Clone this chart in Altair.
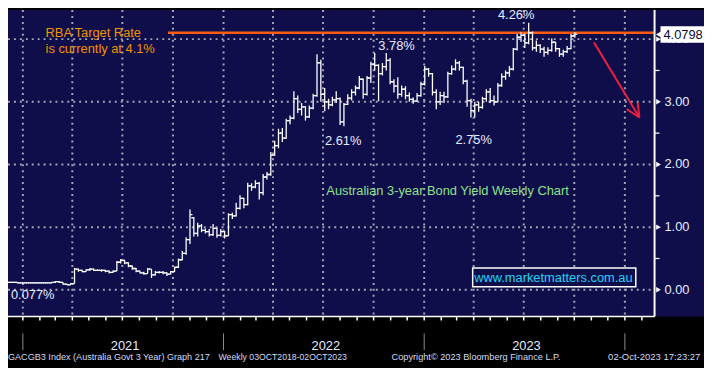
import altair as alt
import pandas as pd

# ---------------- data (weekly OHLC, Australian 3-year bond yield) ----------------
start_week = "2020-11-23"
opens = [0.12,0.12,
         0.12,0.12,0.12,0.11,0.11,0.11,0.11,0.11,0.11,0.11,0.11,0.11,
         0.12,0.13,0.12,0.09,0.08,0.10,
         0.33,0.31,0.29,0.32,0.33,0.31,0.31,0.31,0.30,0.28,
         0.30,0.44,0.47,0.43,0.38,0.34,0.30,0.27,0.26,0.33,
         0.24,0.28,0.28,0.27,0.25,0.29,0.36,0.48,0.58,0.80,
         1.15,0.90,1.02,0.95,0.93,0.88,0.98,0.87,0.93,0.86,
         1.20,1.18,1.30,1.46,1.36,1.66,1.64,1.70,1.55,1.80,
         1.84,2.15,2.30,2.50,2.42,2.70,2.74,3.05,2.88,2.92,
         2.76,2.90,3.10,3.62,3.12,3.00,2.95,3.03,3.05,2.68,
         2.96,3.06,3.15,3.22,3.36,3.12,3.38,3.60,3.58,3.45,
         3.56,3.66,3.32,3.25,3.12,3.20,3.10,3.04,3.01,3.10,
         3.28,3.52,3.45,3.15,3.00,3.10,3.08,3.45,3.52,3.62,
         3.55,3.33,3.02,2.86,2.95,2.91,3.05,3.16,3.02,3.00,
         3.26,3.40,3.46,3.52,3.84,4.03,4.06,3.94,4.10,3.86,
         3.90,3.84,3.79,3.82,3.95,3.85,3.76,3.80,3.85,4.05]
highs = [0.13,0.13,
         0.13,0.13,0.13,0.12,0.12,0.12,0.12,0.12,0.12,0.12,0.12,0.12,
         0.14,0.14,0.12,0.10,0.11,0.35,
         0.34,0.32,0.33,0.35,0.34,0.33,0.33,0.32,0.31,0.31,
         0.46,0.49,0.48,0.44,0.39,0.35,0.31,0.29,0.35,0.33,
         0.30,0.30,0.30,0.28,0.30,0.37,0.50,0.62,0.84,1.28,
         1.16,1.07,1.05,0.98,0.97,1.05,0.99,0.97,0.94,1.22,
         1.23,1.39,1.51,1.47,1.71,1.70,1.75,1.72,1.85,1.88,
         2.20,2.38,2.57,2.58,2.73,2.78,3.17,3.10,2.98,2.93,
         2.94,3.13,3.76,3.67,3.22,3.05,3.08,3.17,3.07,2.98,
         3.12,3.20,3.26,3.41,3.37,3.41,3.64,3.78,3.60,3.62,
         3.78,3.70,3.36,3.39,3.26,3.25,3.15,3.07,3.14,3.32,
         3.57,3.54,3.46,3.20,3.16,3.16,3.48,3.58,3.68,3.65,
         3.56,3.35,3.05,3.00,3.00,3.08,3.20,3.22,3.10,3.30,
         3.45,3.50,3.57,3.86,4.08,4.11,4.09,4.26,4.12,3.98,
         3.92,3.88,3.87,4.01,3.96,3.86,3.83,3.89,4.08,4.11]
lows = [0.11,0.11,
        0.11,0.11,0.11,0.10,0.10,0.10,0.10,0.10,0.10,0.10,0.10,0.10,
        0.11,0.11,0.08,0.077,0.08,0.10,
        0.29,0.28,0.29,0.30,0.30,0.30,0.29,0.28,0.26,0.27,
        0.30,0.42,0.41,0.36,0.32,0.28,0.26,0.24,0.26,0.19,
        0.23,0.26,0.25,0.22,0.25,0.29,0.35,0.47,0.56,0.73,
        0.85,0.85,0.92,0.90,0.85,0.86,0.83,0.85,0.82,0.86,
        1.13,1.17,1.28,1.30,1.35,1.58,1.62,1.44,1.51,1.76,
        1.82,2.14,2.26,2.36,2.41,2.64,2.72,2.82,2.78,2.70,
        2.74,2.88,3.08,3.00,2.85,2.88,2.93,2.98,2.63,2.61,
        2.95,3.02,3.10,3.20,3.05,3.10,3.30,3.50,3.01,3.42,
        3.50,3.28,3.15,3.05,3.08,3.04,3.00,2.97,3.00,3.08,
        3.26,3.40,3.10,2.88,2.95,2.98,3.06,3.43,3.50,3.50,
        3.28,2.92,2.75,2.75,2.84,2.89,3.00,2.98,2.94,2.99,
        3.24,3.35,3.40,3.50,3.82,3.96,3.86,3.92,3.82,3.80,
        3.78,3.72,3.75,3.80,3.80,3.72,3.72,3.78,3.84,4.02]
closes = [0.12,0.12,
          0.12,0.12,0.11,0.11,0.11,0.11,0.11,0.11,0.11,0.11,0.11,0.12,
          0.13,0.12,0.09,0.08,0.10,0.33,
          0.31,0.29,0.32,0.33,0.31,0.31,0.31,0.30,0.28,0.30,
          0.44,0.47,0.43,0.38,0.34,0.30,0.27,0.26,0.33,0.24,
          0.28,0.28,0.27,0.25,0.29,0.36,0.48,0.58,0.80,1.20,
          0.90,1.02,0.95,0.93,0.88,0.98,0.87,0.93,0.86,1.20,
          1.18,1.30,1.46,1.36,1.66,1.64,1.70,1.55,1.80,1.84,
          2.15,2.30,2.50,2.42,2.70,2.74,3.05,2.88,2.92,2.76,
          2.90,3.10,3.62,3.12,3.00,2.95,3.03,3.05,2.68,2.96,
          3.06,3.15,3.22,3.36,3.12,3.38,3.60,3.58,3.45,3.56,
          3.66,3.32,3.25,3.12,3.20,3.10,3.04,3.01,3.10,3.28,
          3.52,3.45,3.15,3.00,3.10,3.08,3.45,3.52,3.62,3.55,
          3.33,3.02,2.86,2.95,2.91,3.05,3.16,3.02,3.00,3.26,
          3.40,3.46,3.52,3.84,4.03,4.06,3.94,4.10,3.86,3.90,
          3.84,3.79,3.82,3.95,3.85,3.76,3.80,3.85,4.05,4.0798]

y_levels = [0, 1, 2, 3, 4]
y_labels = ["0.00", "1.00", "2.00", "3.00", "4.00"]
y_minor = [0.5, 1.5, 2.5, 3.5]
years = ["2021", "2022", "2023"]
rba_rate = 4.1
last_value = "4.0798"

# ---------------- styling ----------------
NAVY = "#0f0e4a"
GRID = "#a3a3b3"
LIGHT = "#e6ecff"
FONT = "Liberation Sans"
W, H = 654, 310          # plot area (page offset 8px, so it ends at x=662, y=318)
TOTAL_W, TOTAL_H = 704, 360

xs = alt.Scale(domain=[alt.DateTime(year=2020, month=12, date=5),
                       alt.DateTime(year=2024, month=2, date=24)], nice=False)
ys = alt.Scale(domain=[-0.426, 4.464], nice=False, zero=False)

df = pd.DataFrame({"date": pd.date_range(start_week, periods=len(closes), freq="7D"),
                   "open": opens, "high": highs, "low": lows, "close": closes})
quarters = pd.DataFrame({"d": pd.date_range("2021-01-01", "2024-01-01", freq="QS")})
months = pd.DataFrame({"d": pd.date_range("2021-01-01", "2024-02-01", freq="MS")})
year_starts = pd.DataFrame({"d": pd.to_datetime(["2021-01-01", "2022-01-01", "2023-01-01", "2024-01-01"])})
year_mid = pd.DataFrame({"d": pd.to_datetime([f"{y}-07-06" for y in years]), "t": years})
levels = pd.DataFrame({"v": y_levels, "lab": y_labels})
minor = pd.DataFrame({"v": y_minor})
rba = pd.DataFrame({"d1": pd.to_datetime(["2021-09-22"]), "d2": pd.to_datetime(["2024-02-24"]), "v": [rba_rate]})
arrow = pd.DataFrame({
    "d1": pd.to_datetime(["2023-11-05 17:00", "2024-01-04 12:00", "2024-01-24 08:00"]),
    "v1": [3.948, 2.882, 2.986],
    "d2": pd.to_datetime(["2024-01-27 10:00"] * 3),
    "v2": [2.749, 2.749, 2.749],
})
one = pd.DataFrame({"k": [0]})

X = lambda f: alt.X(f, scale=xs, axis=None)
Y = lambda f: alt.Y(f, scale=ys, axis=None)

bg = alt.Chart(one).mark_rect(color=NAVY).encode(
    x=alt.value(0), x2=alt.value(TOTAL_W), y=alt.value(0), y2=alt.value(H))

vgrid = alt.Chart(quarters).mark_rule(color=GRID, strokeWidth=2, strokeDash=[2, 4]).encode(
    x=X("d:T"), y=alt.value(0), y2=alt.value(H))
hgrid = alt.Chart(levels).mark_rule(color=GRID, strokeWidth=2, strokeDash=[2, 4]).encode(
    y=Y("v:Q"), x=alt.value(0), x2=alt.value(W))

rba_line = alt.Chart(rba).mark_rule(color="#ff5a14", strokeWidth=2.5).encode(
    x=X("d1:T"), x2="d2:T", y=Y("v:Q"))

hl = alt.Chart(df).mark_rule(color="white", strokeWidth=1.3, clip=True).encode(
    x=X("date:T"), y=Y("low:Q"), y2="high:Q")
op = alt.Chart(df).mark_rule(color="white", strokeWidth=1.3, xOffset=-2.5, x2Offset=0, clip=True).encode(
    x=X("date:T"), x2="date:T", y=Y("open:Q"))
cl = alt.Chart(df).mark_rule(color="white", strokeWidth=1.3, xOffset=0, x2Offset=2.5, clip=True).encode(
    x=X("date:T"), x2="date:T", y=Y("close:Q"))

arr = alt.Chart(arrow).mark_rule(color="#e8203f", strokeWidth=2).encode(
    x=X("d1:T"), x2="d2:T", y=Y("v1:Q"), y2="v2:Q")

# axes drawn by hand
raxis = alt.Chart(one).mark_rule(color="white", strokeWidth=2).encode(
    x=alt.value(W), y=alt.value(0), y2=alt.value(H))
baxis = alt.Chart(one).mark_rule(color="white", strokeWidth=1.5).encode(
    x=alt.value(0), x2=alt.value(W), y=alt.value(H))
mticks = alt.Chart(months).mark_rule(color="white", strokeWidth=1.5).encode(
    x=X("d:T"), y=alt.value(H), y2=alt.value(H + 4))
ydiv = alt.Chart(year_starts).mark_rule(color="#8c8c8c", strokeWidth=1).encode(
    x=X("d:T"), y=alt.value(327), y2=alt.value(344))
ylab = alt.Chart(year_mid).mark_text(color=LIGHT, fontSize=13, font=FONT, align="center").encode(
    x=X("d:T"), y=alt.value(340), text="t:N")
tri = alt.Chart(levels).mark_point(shape="triangle-right", filled=True, color="white", size=30, opacity=1).encode(
    x=alt.value(W + 4), y=Y("v:Q"))
mtk = alt.Chart(minor).mark_rule(color="white", strokeWidth=1.2).encode(
    x=alt.value(W), x2=alt.value(W + 5), y=Y("v:Q"))
rlab = alt.Chart(levels).mark_text(color=LIGHT, fontSize=13, font=FONT, align="left", baseline="middle").encode(
    x=alt.value(W + 10), y=Y("v:Q"), text="lab:N")


def txt(s, x, y, color, size=13, align="left", font=FONT, baseline="alphabetic"):
    return alt.Chart(one).mark_text(text=s, align=align, baseline=baseline, color=color,
                                    fontSize=size, font=font).encode(x=alt.value(x), y=alt.value(y))


# last value flag
flag_box = alt.Chart(one).mark_rect(color="white").encode(
    x=alt.value(660), x2=alt.value(TOTAL_W), y=alt.value(16.5), y2=alt.value(33))
flag_notch = alt.Chart(one).mark_point(shape="triangle-left", filled=True, color="white", size=70, opacity=1).encode(
    x=alt.value(659), y=alt.value(24.7))
flag_txt = txt(last_value, 663, 25, "#0a0a30", size=13, baseline="middle")

site_box = alt.Chart(one).mark_rect(fill=NAVY, stroke="white", strokeWidth=1.5).encode(
    x=alt.value(470), x2=alt.value(635), y=alt.value(261), y2=alt.value(280))

texts = [
    txt("RBA Target Rate", 38, 27, "#f39200"),
    txt("is currently at 4.1%", 38, 43.7, "#f39200"),
    txt("4.26%", 514, 9.5, LIGHT, align="center"),
    txt("3.78%", 393, 40.5, LIGHT, align="center"),
    txt("2.61%", 339, 136.5, LIGHT, align="center"),
    txt("2.75%", 471, 135.5, LIGHT, align="center"),
    txt("0.077%", 25, 292.7, LIGHT, align="center"),
    txt("Australian 3-year Bond Yield Weekly Chart", 322, 187, "#8fe08a"),
    txt("www.marketmatters.com.au", 471.5, 275.3, "#22d3f5"),
]
FOOT = "#d3dcf5"
footer = [
    txt("GACGB3 Index (Australia Govt 3 Year) Graph 217", 0, 354, FOOT, size=9.2),
    txt("Weekly 03OCT2018-02OCT2023", 213, 354, FOOT, size=8.8),
    txt("Copyright\u00a9 2023 Bloomberg Finance L.P.", 388, 354, FOOT, size=9.3),
    txt("02-Oct-2023 17:23:27", 607, 354, FOOT, size=9.6),
]

chart = alt.layer(
    bg, vgrid, hgrid, rba_line, hl, op, cl, arr,
    raxis, baxis, mticks, ydiv, ylab, tri, mtk, rlab,
    site_box, *texts, *footer, flag_box, flag_notch, flag_txt,
).properties(
    width=W, height=H,
    autosize=alt.AutoSizeParams(type="none"),
    padding={"left": 0, "top": 0, "right": TOTAL_W - W, "bottom": TOTAL_H - H},
    background="#000000",
).configure_view(stroke=None, fill=NAVY)

chart.save("out.html", embed_options={"renderer": "svg", "actions": False})
